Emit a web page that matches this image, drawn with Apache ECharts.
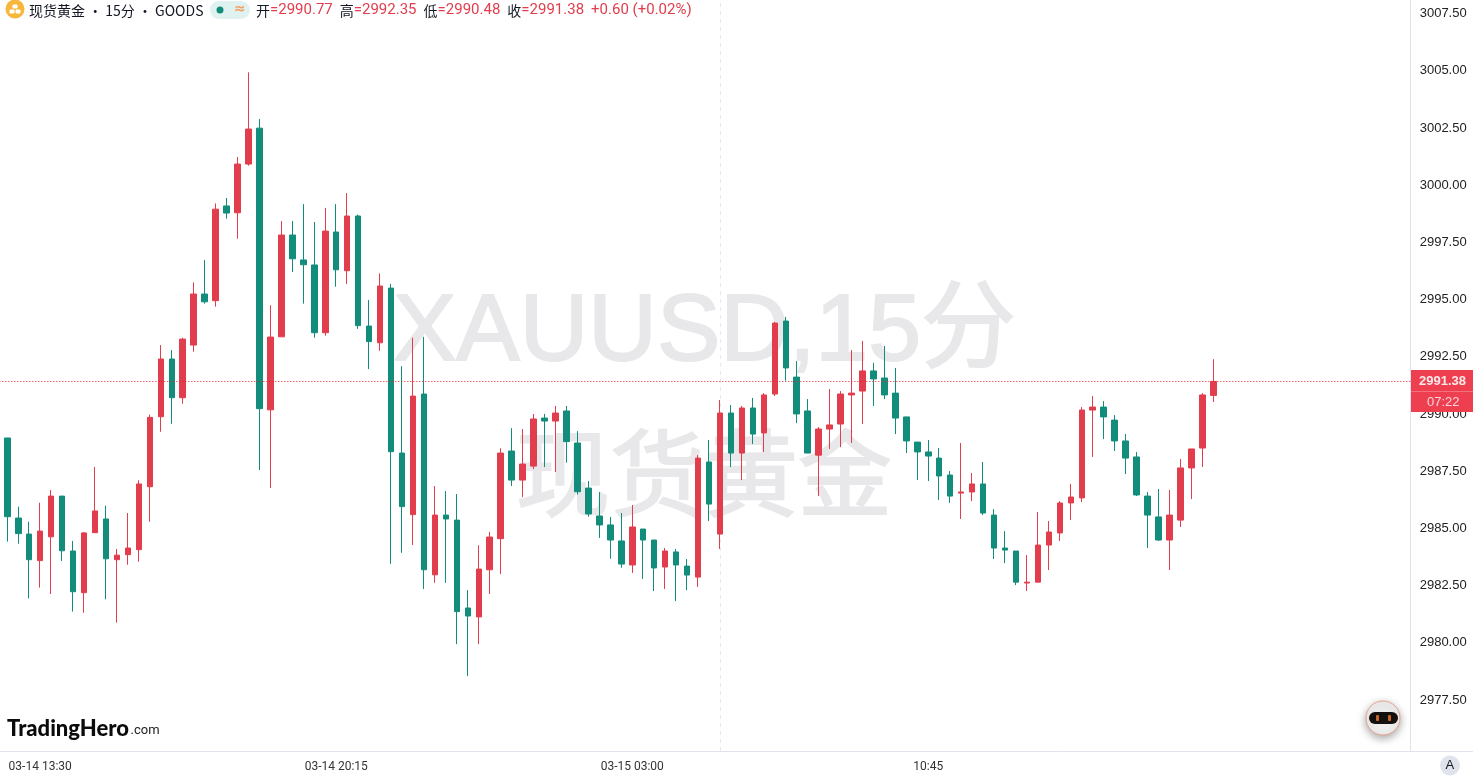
<!DOCTYPE html>
<html>
<head>
<meta charset="utf-8">
<title>现货黄金 15分</title>
<style>
  html, body { margin: 0; padding: 0; background: #fff; }
  #main { width: 1473px; height: 780px; }
</style>
<script src="https://cdn.jsdelivr.net/npm/echarts@6/dist/echarts.min.js"></script>
</head>
<body>
<div id="main"></div>
<script>
// 15分K线，数值从图上读出来的
var openVals = [
  2988.91, 2985.41, 2984.71, 2983.55, 2984.59, 2986.37, 2983.97, 2982.15, 2984.77, 2985.37,
  2983.59, 2983.81, 2984.03, 2986.78, 2989.84, 2992.36, 2990.67, 2992.97, 2995.20, 2994.91,
  2999.05, 2998.75, 3000.88, 3002.45, 2990.14, 2993.33, 2997.78, 2996.69, 2996.47, 2993.51,
  2997.91, 2996.22, 2998.61, 2993.80, 2993.07, 2995.46, 2988.25, 2985.56, 2990.83, 2982.93,
  2985.54, 2985.32, 2981.48, 2981.09, 2983.15, 2984.51, 2988.34, 2987.07, 2987.68, 2989.78,
  2989.65, 2990.09, 2988.69, 2986.72, 2985.50, 2985.11, 2984.41, 2983.36, 2984.93, 2984.45,
  2983.27, 2983.93, 2983.31, 2982.83, 2987.86, 2984.71, 2990.00, 2988.25, 2990.22, 2989.13,
  2990.83, 2994.02, 2991.57, 2990.09, 2988.16, 2989.30, 2989.52, 2990.79, 2990.96, 2991.84,
  2991.53, 2990.87, 2989.83, 2988.73, 2988.30, 2988.03, 2987.29, 2986.50, 2986.55, 2986.90,
  2985.54, 2984.10, 2983.97, 2982.57, 2982.61, 2984.23, 2984.76, 2986.07, 2986.29, 2990.13,
  2990.26, 2989.69, 2988.78, 2988.08, 2986.37, 2985.46, 2984.45, 2985.32, 2987.60, 2988.47,
  2990.77
];
var closeVals = [
  2985.47, 2984.73, 2983.59, 2984.84, 2986.37, 2983.98, 2982.19, 2984.76, 2985.72, 2983.63,
  2983.79, 2984.10, 2986.90, 2989.81, 2992.36, 2990.67, 2993.23, 2995.20, 2994.86, 2998.91,
  2998.74, 3000.88, 3002.41, 2990.19, 2993.32, 2997.78, 2996.74, 2996.48, 2993.51, 2997.95,
  2996.26, 2998.61, 2993.82, 2993.12, 2995.55, 2988.31, 2985.91, 2990.74, 2983.15, 2985.54,
  2985.37, 2981.32, 2981.13, 2983.18, 2984.58, 2988.25, 2987.07, 2987.77, 2989.74, 2989.65,
  2990.00, 2988.75, 2986.56, 2985.59, 2985.11, 2984.45, 2983.40, 2985.02, 2984.45, 2983.23,
  2983.97, 2983.36, 2982.92, 2988.03, 2986.02, 2990.00, 2988.25, 2990.22, 2989.08, 2990.79,
  2993.93, 2991.97, 2989.96, 2988.25, 2989.30, 2989.48, 2990.83, 2990.87, 2991.84, 2991.49,
  2990.79, 2989.78, 2988.78, 2988.30, 2988.12, 2987.25, 2986.37, 2986.55, 2986.90, 2985.63,
  2984.10, 2984.01, 2982.61, 2982.61, 2984.23, 2984.80, 2986.07, 2986.33, 2990.13, 2990.26,
  2989.83, 2988.78, 2988.03, 2986.42, 2985.54, 2984.45, 2985.54, 2987.60, 2988.43, 2990.79,
  2991.38
];
var lowVals = [
  2984.38, 2984.29, 2981.90, 2982.37, 2982.09, 2983.53, 2981.32, 2981.27, 2984.77, 2981.86,
  2980.84, 2983.37, 2983.50, 2985.25, 2989.18, 2989.53, 2990.41, 2992.68, 2994.78, 2994.65,
  2998.49, 2997.62, 3000.81, 2987.51, 2986.72, 2993.33, 2996.16, 2994.78, 2993.29, 2993.38,
  2995.52, 2995.64, 2993.68, 2991.92, 2992.72, 2983.41, 2983.89, 2984.23, 2982.31, 2982.58,
  2982.58, 2979.90, 2978.51, 2979.90, 2982.09, 2982.96, 2986.81, 2986.32, 2987.55, 2987.64,
  2987.42, 2987.83, 2986.43, 2985.47, 2984.54, 2983.63, 2983.24, 2983.01, 2982.75, 2982.22,
  2982.31, 2981.78, 2982.26, 2982.40, 2985.28, 2984.06, 2987.64, 2987.07, 2988.65, 2988.30,
  2990.74, 2991.41, 2989.56, 2988.25, 2986.37, 2988.43, 2988.51, 2988.69, 2989.52, 2990.31,
  2990.61, 2989.08, 2988.25, 2987.07, 2987.03, 2986.20, 2986.07, 2985.37, 2986.15, 2985.54,
  2983.62, 2983.44, 2982.48, 2982.22, 2982.61, 2983.14, 2984.41, 2985.32, 2986.11, 2988.08,
  2988.86, 2988.34, 2987.33, 2986.37, 2984.10, 2984.41, 2983.14, 2985.02, 2986.24, 2987.64,
  2990.48
];
var highVals = [
  2988.91, 2985.91, 2985.25, 2986.08, 2986.64, 2986.37, 2984.41, 2984.80, 2987.64, 2985.95,
  2984.06, 2985.63, 2987.06, 2989.93, 2992.97, 2992.75, 2993.29, 2995.71, 2996.69, 2999.16,
  2999.40, 3001.19, 3004.89, 3002.85, 2994.71, 2998.39, 2998.39, 2999.13, 2998.35, 2998.96,
  2999.13, 2999.61, 2998.67, 2994.94, 2996.10, 2995.64, 2992.05, 2993.29, 2993.33, 2986.81,
  2986.59, 2986.46, 2982.26, 2984.22, 2984.80, 2988.46, 2989.34, 2989.30, 2989.96, 2989.96,
  2990.31, 2990.31, 2989.21, 2987.03, 2986.55, 2985.46, 2985.63, 2985.98, 2984.93, 2984.45,
  2984.10, 2984.06, 2983.62, 2988.16, 2988.82, 2990.57, 2990.35, 2990.31, 2990.66, 2990.87,
  2993.98, 2994.20, 2992.27, 2990.61, 2989.39, 2991.05, 2990.96, 2992.75, 2993.15, 2992.19,
  2992.93, 2991.97, 2989.83, 2988.73, 2988.82, 2988.47, 2987.47, 2988.69, 2987.38, 2987.86,
  2985.80, 2984.84, 2983.97, 2983.79, 2985.67, 2985.28, 2986.15, 2986.90, 2990.26, 2990.74,
  2990.52, 2989.91, 2989.08, 2988.30, 2986.55, 2986.68, 2986.64, 2987.99, 2988.43, 2990.87,
  2992.35
];
var priceTicks = [2977.5, 2980, 2982.5, 2985, 2987.5, 2990, 2992.5, 2995, 2997.5, 3000, 3002.5, 3005, 3007.5];
var timeTickBars = [3, 30, 57, 84];
var timeTickLabels = ['03-14 13:30', '03-14 20:15', '03-15 03:00', '10:45'];
var lastPrice = 2991.38;
var sessionBar = 65;

var upColor = '#e23d4d';
var downColor = '#128d7b';
var EMPTY_RIGHT = 18; // 右边留白的K线根数

// 前面空一根，让第一根K线不贴边
var categories = [];
for (var i = -1; i < openVals.length + EMPTY_RIGHT; i++) {
  categories.push(String(i));
}
var candleData = [['-', '-', '-', '-']];
openVals.forEach(function (o, i) {
  candleData.push([o, closeVals[i], lowVals[i], highVals[i]]);
});

var chart = echarts.init(document.getElementById('main'), null, { renderer: 'canvas' });

var option = {
  animation: false,
  backgroundColor: '#fff',
  title: [
    {
      left: 29, top: 1, padding: 0,
      text: '现货黄金 • 15分 • GOODS',
      textStyle: { fontFamily: '"Noto Sans CJK SC", sans-serif', fontSize: 14, fontWeight: 'normal', color: '#131722', lineHeight: 19 }
    },
    {
      left: 256, top: 1, padding: 0,
      text: '{k|开}{v|=2990.77}{g| }{k|高}{v|=2992.35}{g| }{k|低}{v|=2990.48}{g| }{k|收}{v|=2991.38}{g| }{v|+0.60 (+0.02%)}',
      textStyle: {
        fontSize: 15,
        fontWeight: 'normal',
        lineHeight: 19,
        rich: {
          k: { fontFamily: '"Noto Sans CJK SC", sans-serif', fontSize: 14, fontWeight: 'normal', color: '#131722' },
          v: { fontFamily: 'Roboto, sans-serif', fontSize: 15, fontWeight: 'normal', color: upColor },
          g: { width: 7, fontSize: 15 }
        }
      }
    }
  ],
  grid: { left: -3.66, right: 62.3, top: 0, bottom: 29, outerBoundsMode: 'none' },
  xAxis: {
    type: 'category',
    data: categories,
    boundaryGap: false,
    axisLine: { show: true, lineStyle: { color: '#e0e3eb' } },
    axisTick: { show: false },
    splitLine: { show: false },
    axisLabel: {
      margin: 10,
      fontFamily: 'Roboto, sans-serif',
      fontSize: 12,
      color: '#333',
      interval: function (idx) {
        return timeTickBars.indexOf(idx - 1) >= 0;
      },
      formatter: function (val, idx) {
        return timeTickLabels[timeTickBars.indexOf(idx - 1)] || '';
      }
    }
  },
  yAxis: {
    type: 'value',
    position: 'right',
    min: 2975.23,
    max: 3008.05,
    axisLine: { show: true, lineStyle: { color: '#e0e3eb' } },
    axisTick: { show: false },
    splitLine: { show: false },
    axisLabel: {
      margin: 9,
      customValues: priceTicks,
      fontFamily: '"Liberation Sans", Arial, sans-serif',
      fontSize: 13,
      color: '#222',
      formatter: function (v) { return '{p|' + v.toFixed(2) + '}'; },
      rich: {
        p: { padding: [2, 0, 0, 0], fontFamily: '"Liberation Sans", Arial, sans-serif', fontSize: 13, color: '#222' }
      }
    }
  },
  series: [
    {
      // 只放那条竖的虚线，压在K线下面
      type: 'line',
      z: 1,
      data: [],
      markLine: {
        z: 1,
        silent: true,
        symbol: 'none',
        animation: false,
        label: { show: false },
        data: [{ xAxis: String(sessionBar), lineStyle: { color: '#e6e8ee', type: [4, 4], width: 1 } }]
      }
    },
    {
      type: 'candlestick',
      z: 2,
      data: candleData,
      barWidth: 6,
      itemStyle: {
        color: upColor,
        color0: downColor,
        borderColor: upColor,
        borderColor0: downColor,
        borderWidth: 1
      }
    },
    {
      // 最新价的点线
      type: 'line',
      z: 3,
      data: [],
      markLine: {
        z: 5,
        silent: true,
        symbol: 'none',
        animation: false,
        label: { show: false },
        lineStyle: { color: '#e8202f', type: [1, 2], width: 1 },
        data: [{ yAxis: lastPrice }]
      }
    }
  ],
  graphic: [
    // 水印
    { type: 'text', z: -10, left: 392, top: 285, style: { text: 'XAUUSD,15分', fontFamily: '"Liberation Sans", "Noto Sans CJK SC", sans-serif', fontSize: 95, fill: '#e8e8ea', stroke: '#e8e8ea', lineWidth: 2 } },
    { type: 'text', z: -10, left: 515, top: 425, style: { text: '现货黄金', fontFamily: '"Noto Sans CJK SC", sans-serif', fontSize: 94, fill: '#e8e8ea', stroke: '#e8e8ea', lineWidth: 2 } },
    // 底部分隔线右段
    { type: 'line', z: 5, shape: { x1: 1411, y1: 751.5, x2: 1473, y2: 751.5 }, style: { stroke: '#e0e3eb', lineWidth: 1 } },
    // 左上角图标
    { type: 'circle', z: 20, shape: { cx: 15, cy: 9, r: 9.5 }, style: { fill: '#f6b73c' } },
    { type: 'rect', z: 21, shape: { x: 12.5, y: 4.5, width: 5, height: 4, r: 1 }, style: { fill: '#fff' } },
    { type: 'rect', z: 21, shape: { x: 9.5, y: 9.5, width: 5, height: 4, r: 1 }, style: { fill: '#fff' } },
    { type: 'rect', z: 21, shape: { x: 15.5, y: 9.5, width: 5, height: 4, r: 1 }, style: { fill: '#fff' } },
    // 状态胶囊
    { type: 'rect', z: 20, shape: { x: 210, y: 1, width: 40, height: 18, r: 9 }, style: { fill: '#e0f2ef' } },
    { type: 'circle', z: 21, shape: { cx: 220, cy: 10, r: 3.5 }, style: { fill: '#128d7b' } },
    { type: 'text', z: 21, left: 234, top: 2, style: { text: '≈', fontFamily: '"DejaVu Sans", sans-serif', fontSize: 14, fontWeight: 'bold', fill: '#f2a06a' } },
    // 最新价标签
    { type: 'rect', z: 30, shape: { x: 1411, y: 370, width: 62, height: 42 }, style: { fill: '#ee3f50' } },
    { type: 'line', z: 31, shape: { x1: 1411, y1: 391.5, x2: 1473, y2: 391.5 }, style: { stroke: '#f3707c', lineWidth: 1 } },
    { type: 'text', z: 31, left: 1419, top: 375, style: { text: '2991.38', fontFamily: '"Liberation Sans", sans-serif', fontSize: 13, fontWeight: 'bold', fill: '#fde8ea' } },
    { type: 'text', z: 31, left: 1427, top: 396, style: { text: '07:22', fontFamily: '"Liberation Sans", sans-serif', fontSize: 13, fill: '#fbd5d9' } },
    // logo
    { type: 'text', z: 20, left: 7, top: 718, style: { text: 'TradingHero', fontFamily: 'Lato, Inter, sans-serif', fontSize: 22, fontWeight: 900, fill: '#0b0b0b' } },
    { type: 'text', z: 20, left: 130.5, top: 724, style: { text: '.com', fontFamily: 'Roboto, sans-serif', fontSize: 13, fill: '#222' } },
    // 机器人按钮
    { type: 'circle', z: 20, shape: { cx: 1383, cy: 718, r: 17 }, style: { fill: '#eeeeee', stroke: '#e8a48f', lineWidth: 1, shadowBlur: 8, shadowOffsetY: 3, shadowColor: 'rgba(0,0,0,0.35)' } },
    { type: 'rect', z: 21, shape: { x: 1369, y: 712, width: 29, height: 12, r: 6 }, style: { fill: '#14100e' } },
    { type: 'rect', z: 22, shape: { x: 1376, y: 715, width: 3, height: 6, r: 1 }, style: { fill: '#c2662a' } },
    { type: 'rect', z: 22, shape: { x: 1388, y: 715, width: 3, height: 6, r: 1 }, style: { fill: '#c2662a' } },
    // A 按钮
    { type: 'circle', z: 20, shape: { cx: 1450, cy: 765.5, r: 10 }, style: { fill: '#e0e3eb' } },
    { type: 'text', z: 21, left: 1445.5, top: 759, style: { text: 'A', fontFamily: '"Liberation Sans", sans-serif', fontSize: 13, fill: '#131722' } }
  ]
};

chart.setOption(option);
</script>
</body>
</html>
